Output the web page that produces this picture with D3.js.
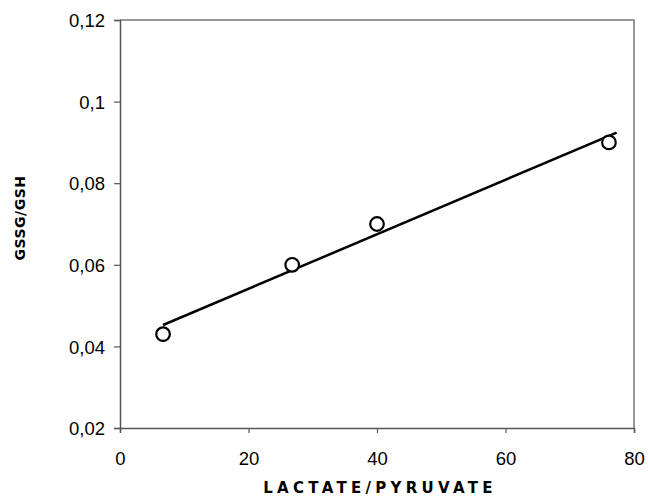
<!DOCTYPE html>
<html>
<head>
<meta charset="utf-8">
<script src="https://cdn.jsdelivr.net/npm/d3@7/dist/d3.min.js"></script>
<style>
  html, body { margin: 0; padding: 0; background: #fff; }
  svg { display: block; }
</style>
</head>
<body>
<script>
// Lactate/pyruvate ratio vs GSSG/GSH ratio
const lactatePyruvate = [6.7, 26.8, 40, 76.1];
const gssgGsh = [0.043, 0.060, 0.070, 0.090];
const xTicks = [0, 20, 40, 60, 80];
const yTicks = [0.02, 0.04, 0.06, 0.08, 0.1, 0.12];
const xTitle = "LACTATE/PYRUVATE";
const yTitle = "GSSG/GSH";

const W = 648, H = 502;
const m = { left: 120, right: 14, top: 20, bottom: 74 };

const svg = d3.select("body").append("svg").attr("width", W).attr("height", H);

const x = d3.scaleLinear().domain([0, 80]).range([m.left, W - m.right]);
const y = d3.scaleLinear().domain([0.02, 0.12]).range([H - m.bottom, m.top]);

const locale = d3.formatLocale({ decimal: ",", thousands: ".", grouping: [3], currency: ["", ""] });
const fmt = locale.format("~g");

// plot frame (top and right)
svg.append("path")
  .attr("d", `M${x(0)},${y(0.12)}H${x(80)}V${y(0.02)}`)
  .attr("fill", "none").attr("stroke", "#777").attr("stroke-width", 1.5);

const xAxis = svg.append("g")
  .attr("transform", `translate(0,${y(0.02)})`)
  .call(d3.axisBottom(x).tickValues(xTicks).tickSize(5).tickPadding(19).tickFormat(d3.format("d")));
const yAxis = svg.append("g")
  .attr("transform", `translate(${x(0)},0)`)
  .call(d3.axisLeft(y).tickValues(yTicks).tickSize(6).tickPadding(9).tickFormat(fmt));

[xAxis, yAxis].forEach(g => {
  g.select(".domain").attr("stroke", "#555").attr("stroke-width", 1.5);
  g.selectAll(".tick line").attr("stroke", "#555").attr("stroke-width", 1.2);
  g.selectAll(".tick text")
    .attr("fill", "#000")
    .style("font-family", "'Liberation Sans', Arial, sans-serif")
    .style("font-size", "18.5px");
});
yAxis.selectAll(".tick text").attr("dy", "0.36em");

// least-squares trend line over the data range
const n = lactatePyruvate.length;
const mx = d3.mean(lactatePyruvate), my = d3.mean(gssgGsh);
let sxy = 0, sxx = 0;
for (let i = 0; i < n; i++) {
  sxy += (lactatePyruvate[i] - mx) * (gssgGsh[i] - my);
  sxx += (lactatePyruvate[i] - mx) ** 2;
}
const slope = sxy / sxx, intercept = my - slope * mx;
const [x0, x1] = d3.extent(lactatePyruvate);
const xs = [x0, x1 + 1.2];
svg.append("line")
  .attr("x1", x(xs[0])).attr("y1", y(intercept + slope * xs[0]))
  .attr("x2", x(xs[1])).attr("y2", y(intercept + slope * xs[1]))
  .attr("stroke", "#000").attr("stroke-width", 2.5);

// data points
svg.selectAll("circle.pt")
  .data(lactatePyruvate.map((v, i) => [v, gssgGsh[i]]))
  .join("circle")
  .attr("class", "pt")
  .attr("cx", d => x(d[0])).attr("cy", d => y(d[1]))
  .attr("r", 6.8)
  .attr("fill", "#fff").attr("stroke", "#000").attr("stroke-width", 2.2);

// axis titles
svg.append("text")
  .attr("x", (x(0) + x(80)) / 2 + 3).attr("y", 493)
  .attr("text-anchor", "middle")
  .style("font-family", "'DejaVu Sans', Verdana, sans-serif")
  .style("font-weight", "bold").style("font-size", "15px")
  .style("letter-spacing", "4.3px")
  .text(xTitle);

svg.append("text")
  .attr("transform", `translate(25,${(y(0.02) + y(0.12)) / 2 - 6}) rotate(-90)`)
  .attr("text-anchor", "middle")
  .style("font-family", "'DejaVu Sans', Verdana, sans-serif")
  .style("font-weight", "bold").style("font-size", "14px")
  .style("letter-spacing", "0.5px")
  .text(yTitle);
</script>
</body>
</html>
